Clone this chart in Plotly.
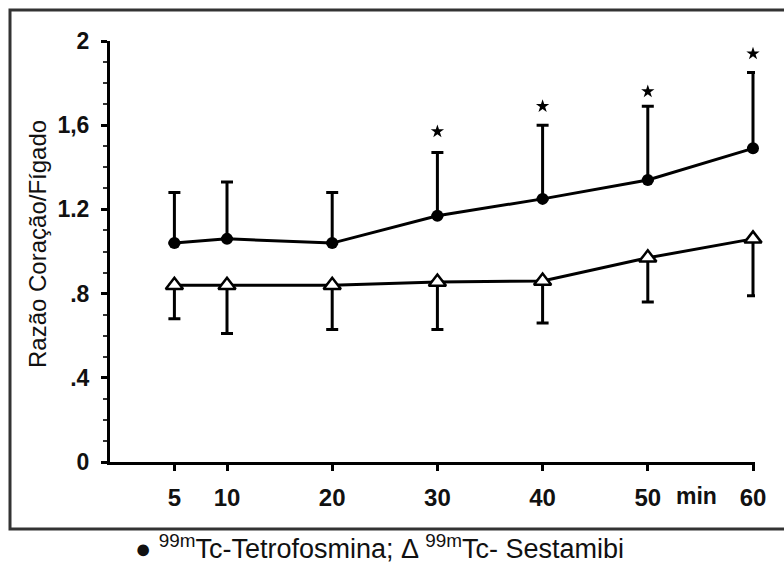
import plotly.graph_objects as go

# ---- data ----
minutes = [5, 10, 20, 30, 40, 50, 60]
tetro_mean = [1.04, 1.06, 1.04, 1.17, 1.25, 1.34, 1.49]
tetro_upper = [1.28, 1.33, 1.28, 1.47, 1.60, 1.69, 1.85]
sesta_mean = [0.84, 0.84, 0.84, 0.855, 0.86, 0.97, 1.06]
sesta_lower = [0.68, 0.61, 0.63, 0.63, 0.66, 0.76, 0.79]
star_minutes = [30, 40, 50, 60]
star_y = [1.57, 1.69, 1.76, 1.94]
ytick_vals = [0, 0.4, 0.8, 1.2, 1.6, 2]
ytick_text = ["0", ".4", ".8", "1.2", "1,6", "2"]

W, H = 784, 564
L, R, T, B = 110, 755, 41, 462  # plot area in pixels


def px(x):
    return (x - L) / (R - L)


def py(y):
    return (B - y) / (B - T)


FONT = "Liberation Sans"

tetro_plus = [u - m for u, m in zip(tetro_upper, tetro_mean)]
sesta_minus = [m - l for m, l in zip(sesta_mean, sesta_lower)]
zeros = [0] * len(minutes)

fig = go.Figure()

fig.add_trace(go.Scatter(
    x=minutes, y=tetro_mean, mode="lines+markers",
    line=dict(color="black", width=3),
    marker=dict(symbol="circle", size=12, color="black"),
    error_y=dict(type="data", symmetric=False, array=tetro_plus, arrayminus=zeros,
                 color="black", thickness=3, width=6),
    cliponaxis=False, showlegend=False,
))

fig.add_trace(go.Scatter(
    x=minutes, y=sesta_mean, mode="lines+markers",
    line=dict(color="black", width=3),
    marker=dict(symbol="triangle-up", size=15, color="white",
                line=dict(color="black", width=2.5)),
    error_y=dict(type="data", symmetric=False, array=zeros, arrayminus=sesta_minus,
                 color="black", thickness=3, width=6),
    cliponaxis=False, showlegend=False,
))

fig.add_trace(go.Scatter(
    x=star_minutes, y=star_y, mode="markers",
    marker=dict(symbol="star", size=10, color="black"),
    cliponaxis=False, showlegend=False,
))

x_per_px = 10 / 105.2
fig.update_xaxes(
    range=[60 - (R - 2 - L) * x_per_px, 60 + 2 * x_per_px],
    tickvals=minutes, ticktext=[str(m) for m in minutes],
    ticks="outside", ticklen=6, tickwidth=2.5, tickcolor="black",
    showline=True, linecolor="black", linewidth=3,
    showgrid=False, zeroline=False,
    tickfont=dict(family=FONT, size=24, color="#111", weight="bold"),
    ticklabelstandoff=6,
)
fig.update_yaxes(
    range=[0, 2],
    tickvals=ytick_vals, ticktext=ytick_text,
    ticks="outside", ticklen=6, tickwidth=2.5, tickcolor="black",
    minor=dict(dtick=0.1, ticks="outside", ticklen=4, tickwidth=2, tickcolor="#333"),
    showline=True, linecolor="black", linewidth=3,
    showgrid=False, zeroline=False,
    tickfont=dict(family=FONT, size=23, color="#111", weight="bold"),
    ticklabelstandoff=7,
)

fig.add_shape(type="rect", xref="paper", yref="paper",
              x0=px(10), x1=px(792), y0=py(529), y1=py(10),
              line=dict(color="#333", width=3), fillcolor="rgba(0,0,0,0)", layer="below")

fig.add_annotation(xref="paper", yref="paper", x=px(37), y=py(244),
                   xanchor="center", yanchor="middle",
                   text="Razão Coração/Fígado", textangle=-90, showarrow=False,
                   font=dict(family=FONT, size=24, color="#111"))
fig.add_annotation(xref="paper", yref="paper", x=px(696), y=py(496),
                   xanchor="center", yanchor="middle",
                   text="min", showarrow=False,
                   font=dict(family=FONT, size=23, color="#111", weight="bold"))
fig.add_annotation(xref="paper", yref="paper", x=px(379), y=py(547),
                   xanchor="center", yanchor="middle",
                   text="● <sup>99m</sup>Tc-Tetrofosmina; Δ <sup>99m</sup>Tc- Sestamibi",
                   showarrow=False,
                   font=dict(family=FONT, size=27, color="#111"))

fig.update_layout(
    width=W, height=H,
    margin=dict(l=L, r=W - R, t=T, b=H - B),
    paper_bgcolor="white", plot_bgcolor="white",
    font=dict(family=FONT),
)

fig.write_html("out.html", config={"displayModeBar": False},
               post_script="document.body.style.margin='0';")
